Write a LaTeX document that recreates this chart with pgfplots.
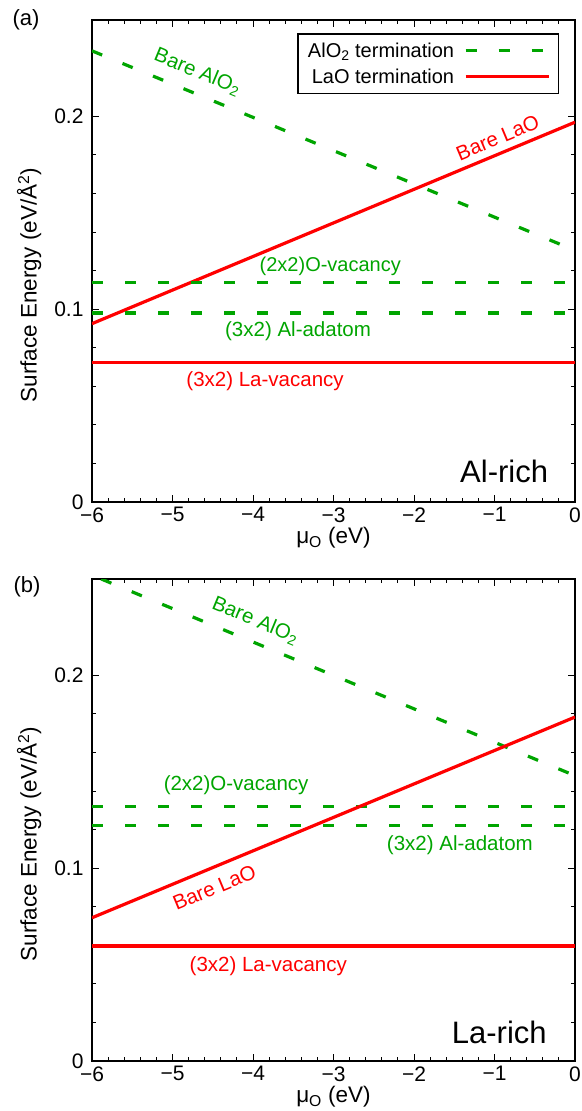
\documentclass[border=0pt]{standalone}
\usepackage{fontspec}
\setmainfont{Liberation Sans}
\usepackage{pgfplots}
\pgfplotsset{compat=1.18}
\definecolor{gpgreen}{RGB}{0,165,0}
\definecolor{gpred}{RGB}{255,0,0}
\newcommand{\fs}[1]{\fontsize{#1}{#1}\selectfont}
\begin{document}
\begin{tikzpicture}
\useasboundingbox (0pt,0pt) rectangle (581pt,-1111pt);
\pgfplotsset{
  myaxis/.style={
    scale only axis, width=483pt, height=482pt,
    xmin=-6, xmax=0, ymin=0, ymax=0.25,
    xtick={-6,-5,-4,-3,-2,-1,0},
    xticklabels={−6,−5,−4,−3,−2,−1,0},
    ytick={0,0.1,0.2},
    yticklabels={0,0.1,0.2},
    minor x tick num=4, minor y tick num=4,
    major tick length=7pt, minor tick length=4pt,
    every tick/.append style={black, line width=1pt},
    axis line style={line width=1.5pt},
    tick label style={font=\fs{21}},
    label style={font=\fs{22.5}},
    xlabel={μ\textsubscript{O} (eV)},
    ylabel={Surface Energy (eV/Å\textsuperscript{2})},
    xlabel style={at={(axis description cs:0.5,-0.075)},anchor=center},
    ylabel style={at={(axis description cs:-0.13,0.45)},anchor=center},
    xticklabel style={yshift=-2pt},
    yticklabel style={xshift=-5pt},
    clip=true,
  },
  aldash/.style={gpgreen, line width=3.2pt, dash pattern=on 11pt off 22pt},
  lasolid/.style={gpred, line width=3.2pt},
}
\node[font=\fs{22}] at (26pt,-20pt) {(a)};
\node[font=\fs{22}] at (27pt,-587pt) {(b)};
\begin{axis}[myaxis, at={(92pt,-502pt)}, anchor=south west,
  legend style={at={(axis description cs:0.967,0.973)}, anchor=north east,
    draw=black, line width=1.5pt, font=\fs{20}, fill=white,
    inner xsep=8pt, inner ysep=7pt, row sep=6pt,
    /tikz/column sep=8pt},
  legend plot pos=right, legend cell align=right,
  legend image code/.code={\draw[#1] (0pt,0pt) -- (83pt,0pt);},
]
\addplot[aldash] coordinates {(-6,0.234) (0,0.1305)};
\addlegendentry{AlO\textsubscript{2} termination}
\addplot[lasolid] coordinates {(-6,0.0925) (0,0.197)};
\addlegendentry{LaO termination}
\addplot[aldash, forget plot] coordinates {(-6,0.114) (0,0.114)};
\addplot[aldash, forget plot] coordinates {(-6,0.098) (0,0.098)};
\addplot[lasolid, forget plot] coordinates {(-6,0.0723) (0,0.0723)};
\node[gpgreen, font=\fs{20.5}, rotate=-22.5] at (axis cs:-4.69,0.223) {Bare AlO\textsubscript{2}};
\node[gpred, font=\fs{20.5}, rotate=22.75] at (axis cs:-0.96,0.189) {Bare LaO};
\node[gpgreen, font=\fs{20}] at (axis cs:-3.04,0.122) {(2x2)O-vacancy};
\node[gpgreen, font=\fs{20.5}] at (axis cs:-3.44,0.0885) {(3x2) Al-adatom};
\node[gpred, font=\fs{20.5}] at (axis cs:-3.85,0.0625) {(3x2) La-vacancy};
\node[black, font=\fs{31}] at (axis cs:-0.88,0.016) {Al-rich};
\end{axis}
\begin{axis}[myaxis, at={(92pt,-1061pt)}, anchor=south west]
\addplot[aldash, dash phase=23pt] coordinates {(-6,0.252) (0,0.148)};
\addplot[aldash] coordinates {(-6,0.132) (0,0.132)};
\addplot[aldash] coordinates {(-6,0.122) (0,0.122)};
\addplot[lasolid] coordinates {(-6,0.0743) (0,0.1784)};
\addplot[lasolid] coordinates {(-6,0.0597) (0,0.0597)};
\node[gpgreen, font=\fs{20.5}, rotate=-22.5] at (axis cs:-3.97,0.2285) {Bare AlO\textsubscript{2}};
\node[gpgreen, font=\fs{20.5}] at (axis cs:-4.21,0.143) {(2x2)O-vacancy};
\node[gpgreen, font=\fs{20.5}] at (axis cs:-1.43,0.112) {(3x2) Al-adatom};
\node[gpred, font=\fs{20.5}, rotate=22.6] at (axis cs:-4.48,0.090) {Bare LaO};
\node[gpred, font=\fs{20.5}] at (axis cs:-3.81,0.049) {(3x2) La-vacancy};
\node[black, font=\fs{31}] at (axis cs:-0.94,0.015) {La-rich};
\end{axis}
\end{tikzpicture}
\end{document}
